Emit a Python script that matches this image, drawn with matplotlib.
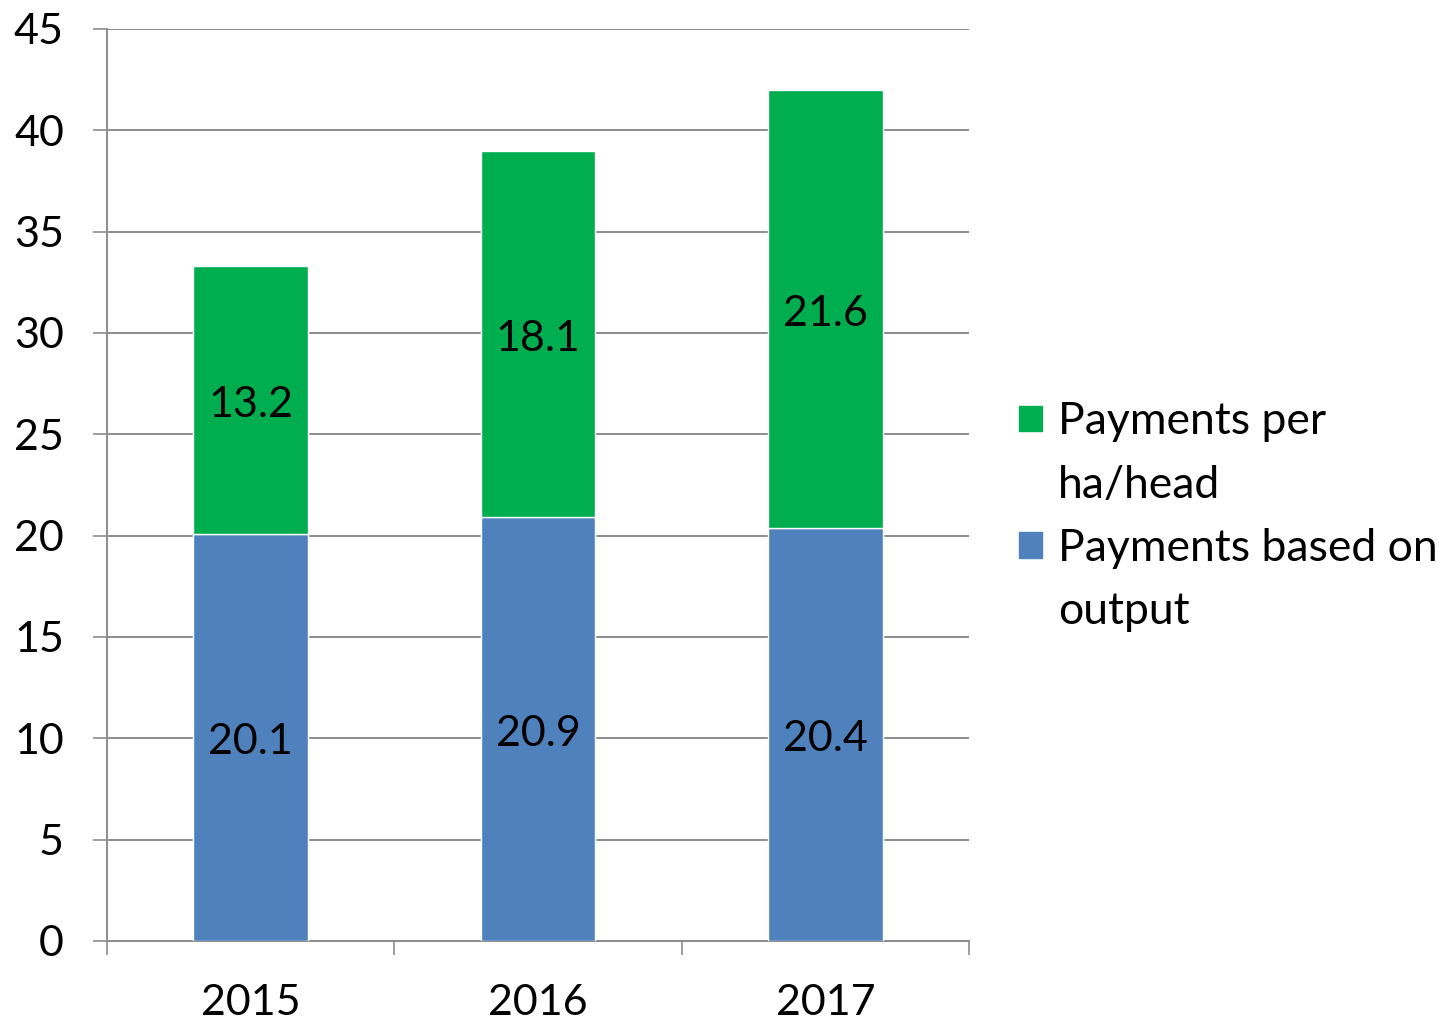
import numpy as np
import matplotlib
matplotlib.use('Agg')
import matplotlib.pyplot as plt
from matplotlib.patches import Rectangle

plt.rcParams['font.family'] = ['Lato', 'DejaVu Sans']

years = ['2015', '2016', '2017']
based_on_output = [20.1, 20.9, 20.4]
per_ha_head = [13.2, 18.1, 21.6]
legend_lines = ['Payments per', 'ha/head', 'Payments based on', 'output']
yticks = [0, 5, 10, 15, 20, 25, 30, 35, 40, 45]

blue = '#4F81BD'
green = '#00AE4F'
grid_c = '#8C8C8C'

fig = plt.figure(figsize=(14.41, 10.23), dpi=100)
ax = fig.add_axes([107 / 1441, 82 / 1023, 862 / 1441, 912 / 1023])

x = np.arange(len(years))
b1 = ax.bar(x, based_on_output, width=0.4, color=blue, edgecolor='white', linewidth=1, zorder=3)
b2 = ax.bar(x, per_ha_head, width=0.4, bottom=based_on_output, color=green,
            edgecolor='white', linewidth=1, zorder=3)

# labels in the middle of each segment
for i in range(len(years)):
    ax.annotate(f'{based_on_output[i]:.1f}', (x[i], based_on_output[i] / 2),
                xytext=(0, -3.5), textcoords='offset points',
                ha='center', va='center', fontsize=31, zorder=4)
    ax.annotate(f'{per_ha_head[i]:.1f}', (x[i], based_on_output[i] + per_ha_head[i] / 2),
                xytext=(0, -3.5), textcoords='offset points',
                ha='center', va='center', fontsize=31, zorder=4)

ax.set_xlim(-0.5, 2.5)
ax.set_ylim(0, 45)
ax.set_yticks(yticks)
ax.yaxis.grid(True, color=grid_c, linewidth=1.4, zorder=0)
ax.set_axisbelow(True)

ax.set_xticks(x)
ax.set_xticklabels(years)
ax.set_xticks([-0.5, 0.5, 1.5, 2.5], minor=True)
ax.tick_params(axis='x', which='major', length=0, pad=31, labelsize=31)
ax.tick_params(axis='x', which='minor', length=10, width=1.2, color=grid_c)
ax.tick_params(axis='y', length=10, width=1.2, color=grid_c, pad=21, labelsize=31)

for s in ['top', 'right']:
    ax.spines[s].set_visible(False)
for s in ['left', 'bottom']:
    ax.spines[s].set_color(grid_c)
    ax.spines[s].set_linewidth(1.4)

# legend: one row per text line, square only on the first line of each entry
blank = Rectangle((0, 0), 1, 1, alpha=0)
handles = [Rectangle((0, 0), 1, 1, color=green), blank,
           Rectangle((0, 0), 1, 1, color=blue), blank]
leg = fig.legend(handles, legend_lines, loc='center left', bbox_to_anchor=(1019 / 1441, 0.495),
                 frameon=False, fontsize=32, handlelength=0.52, handleheight=0.52,
                 handletextpad=0.36, labelspacing=0.5, borderaxespad=0, borderpad=0)

fig.savefig('out.png', dpi=100)
